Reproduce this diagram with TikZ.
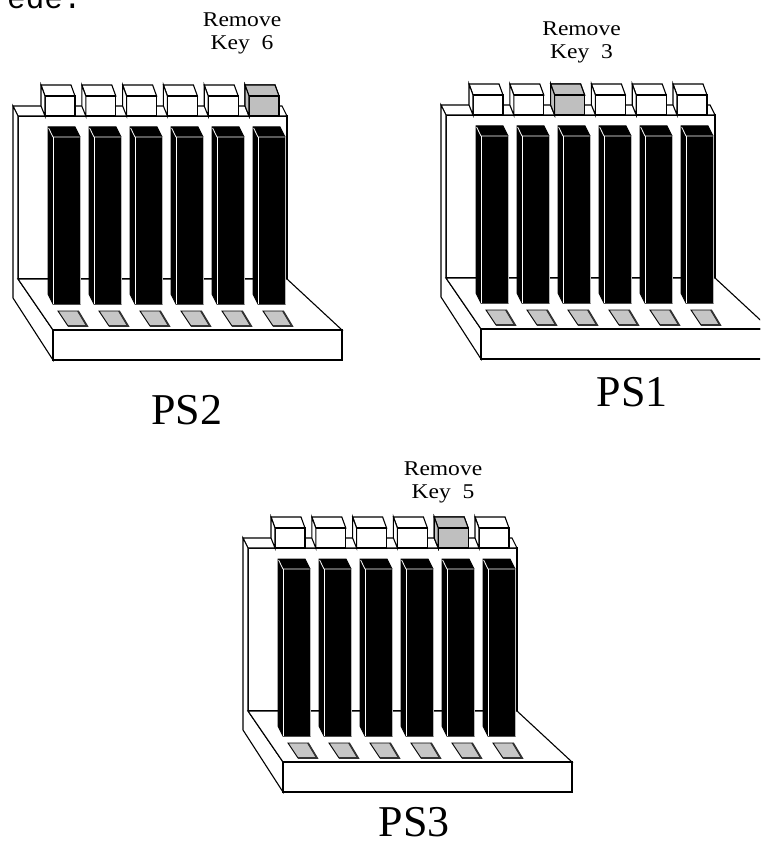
\documentclass[tikz,border=0pt]{standalone}
\usepackage{fontspec}
\setmainfont{Liberation Serif}
\newfontfamily\monofont{Liberation Mono}
\newcommand\keycube[1]{%
  \path[#1] (41,85) -- (71,85) -- (75,96) -- (45,96) -- cycle;
  \path[#1] (45,96) rectangle (75,116);
  \path[#1] (41,85) -- (45,96) -- (45,116) -- (41,106) -- cycle;}
\newcommand\ramstick{%
  \path[modfill] (48,127) -- (75,127) -- (80,137) -- (80,304) -- (53,304) -- (48,294) -- cycle;
  \path[modedge] (48.6,128) -- (53,137) -- (79.5,137);
  \path[modedge] (53,137) -- (53,303.5);
  \path[modright] (80.3,137) -- (80.3,304);
  \path[pad] (58,311) -- (78,311) -- (87,326) -- (68,326) -- cycle;
  \path[padedge] (78,311) -- (87,326) -- (68,326);}
\tikzset{
  ln/.style={draw=black, line width=1.1pt, line join=miter},
  keyface/.style={ln, fill=white},
  graykeyface/.style={ln, fill=gray!50},
  modfill/.style={fill=black, draw=black, line width=1pt},
  modedge/.style={draw=white, line width=0.8pt},
  modright/.style={draw=gray!55, line width=1pt},
  pad/.style={ln, line width=0.9pt, fill=gray!45},
  padedge/.style={draw=black!80, line width=1.8pt},
  keylabel/.style={font=\fontsize{21}{23}\selectfont, anchor=base, inner sep=0pt},
  pslabel/.style={font=\fontsize{44}{46}\selectfont, anchor=base, inner sep=0pt},
  pics/ramunit/.style={code={
    \path[ln, fill=white] (18,116) rectangle (287,279);
    \path[ln, fill=white] (13,106) -- (282,106) -- (287,116) -- (18,116) -- cycle;
    \path[ln, fill=white] (13,106) -- (18,116) -- (18,279) -- (53,330) -- (53,360) -- (13,298) -- cycle;
    \path[ln, fill=white] (18,279) -- (287,279) -- (342,330) -- (53,330) -- cycle;
    \path[ln, fill=white] (53,330) rectangle (342,360);
    \path[draw=black, line width=1.8pt] (53,330) -- (342,330);
    \foreach \i in {0,...,5} {
      \begin{scope}[shift={(41*\i,0)}] \ramstick \end{scope}
    }
    \foreach \i in {0,...,5} {
      \begin{scope}[shift={(40.8*\i,0)}] \keycube{keyface} \end{scope}
    }
    \begin{scope}[shift={(40.8*#1,0)}] \keycube{graykeyface} \end{scope}
  }}
}
\begin{document}
\begin{tikzpicture}[x=1pt, y=-1pt]
\useasboundingbox (0,0) rectangle (760,842);
\clip (0,0) rectangle (760,842);
\fill[white] (0,0) rectangle (760,842);
\node[font=\monofont\fontsize{31}{31}\selectfont, anchor=base west, inner sep=0pt] (frag) at (7,8.5) {ede.};
% PS2
\pic (ps2) at (0,0) {ramunit=5};
\node[keylabel] (ps2r) at (242,27) {\scalebox{1.12}[1]{Remove}};
\node[keylabel] (ps2k) at (242,50) {\scalebox{1.12}[1]{Key\ \ 6}};
\node[pslabel] (ps2l) at (187,424) {PS2};
% PS1
\pic (ps1) at (428,-1) {ramunit=2};
\node[keylabel] (ps1r) at (581.5,36) {\scalebox{1.12}[1]{Remove}};
\node[keylabel] (ps1k) at (581.5,59) {\scalebox{1.12}[1]{Key\ \ 3}};
\node[pslabel] (ps1l) at (632,406) {PS1};
% PS3
\pic (ps3) at (230,432) {ramunit=4};
\node[keylabel] (ps3r) at (443,475) {\scalebox{1.12}[1]{Remove}};
\node[keylabel] (ps3k) at (443,498) {\scalebox{1.12}[1]{Key\ \ 5}};
\node[pslabel] (ps3l) at (414,836) {PS3};
\end{tikzpicture}
\end{document}
